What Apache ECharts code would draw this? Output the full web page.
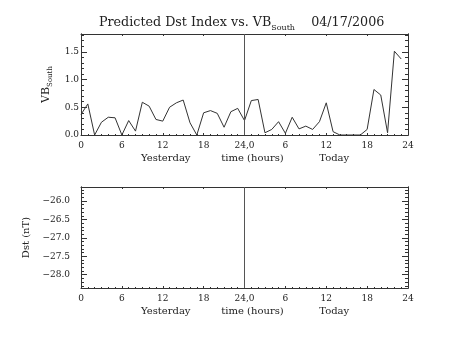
<!DOCTYPE html>
<html>
<head>
<meta charset="utf-8">
<script src="https://cdn.jsdelivr.net/npm/echarts@6/dist/echarts.min.js"></script>
<style>
html,body{margin:0;padding:0;background:#fff;}
#chart{width:453px;height:340px;}
</style>
</head>
<body>
<div id="chart"></div>
<script>
// ---- data (hours 0..47 spanning yesterday + today) ----
const hours = [0,1,2,3,4,5,6,7,8,9,10,11,12,13,14,15,16,17,18,19,20,21,22,23,
               24,25,26,27,28,29,30,31,32,33,34,35,36,37,38,39,40,41,42,43,44,45,46,47];
const vbSouth = [0.37,0.56,0.00,0.23,0.32,0.31,0.00,0.26,0.07,0.59,0.52,0.28,0.25,0.50,0.58,0.63,0.22,0.00,0.40,0.44,0.39,0.14,0.42,0.48,
                 0.26,0.62,0.64,0.04,0.10,0.24,0.03,0.32,0.11,0.16,0.10,0.24,0.58,0.06,0.00,0.00,0.00,0.00,0.10,0.82,0.72,0.04,1.51,1.37];
const dstValues = [];            // no Dst prediction plotted
const dayBoundary = [24];        // vertical separator between yesterday and today
const xTicks = [0,6,12,18,24,30,36,42,48];
const xTickLabels = ['0','6','12','18','24,0','6','12','18','24'];
const xDayLabels = {12:'Yesterday', 24:'time (hours)', 36:'Today'};
const titleMain = 'Predicted Dst Index vs. VB';
const titleSub = 'South';
const titleDate = '04/17/2006';
const yName1 = ['VB','South'];
const yName2 = 'Dst (nT)';
const vbRange = [0, 1.82];
const dstRange = [-28.36, -25.62];

const FONT = 'DejaVu Serif';
const INK = '#222';
const LINE = '#333';

const chart = echarts.init(document.getElementById('chart'), null, {renderer:'canvas'});

function xLabelFmt(v){
  const i = xTicks.indexOf(v);
  if (i < 0) return '';
  const t = '{n|' + xTickLabels[i] + '}';
  if (xDayLabels[v] !== undefined) {
    const key = v === 12 ? 'w1' : 'w2';
    return t + '\n{' + key + '|' + xDayLabels[v] + '}';
  }
  return t;
}
const xRich = {
  n:{fontFamily:FONT,fontSize:9,color:INK,lineHeight:12},
  w1:{fontFamily:FONT,fontSize:10,color:INK,lineHeight:12,padding:[0,0,0,6]},
  w2:{fontFamily:FONT,fontSize:10,color:INK,lineHeight:12,padding:[0,0,0,16]}
};

function near(v, step){ return Math.abs(v/step - Math.round(v/step)) < 1e-6; }

function makeX(grid, pos, labels){
  return {
    type:'value', gridIndex:grid, position:pos, min:0, max:48, interval:6,
    axisLine:{show:true,onZero:false,lineStyle:{color:LINE,width:1}},
    axisTick:{show:true,inside:true,length:2,lineStyle:{color:LINE}},
    minorTick:{show:true,splitNumber:6,length:1,lineStyle:{color:LINE}},
    splitLine:{show:false},
    axisLabel: labels ? {show:true,margin:5,formatter:xLabelFmt,rich:xRich,hideOverlap:false} : {show:false}
  };
}
function makeY(grid, pos, range, split, len, labelCfg, nameCfg){
  const ax = {
    type:'value', gridIndex:grid, position:pos, min:range[0], max:range[1], splitNumber:split,
    scale:true,
    axisLine:{show:true,onZero:false,lineStyle:{color:LINE,width:1}},
    axisTick:{show:true,inside:true,length:len,lineStyle:{color:LINE}},
    splitLine:{show:false},
    axisLabel: labelCfg || {show:false}
  };
  if (nameCfg) Object.assign(ax, nameCfg);
  return ax;
}

const vbLabel = {show:true,margin:2,fontFamily:FONT,fontSize:9,color:INK,
  formatter:v => near(v,0.5) ? v.toFixed(1) : ''};
const dstLabel = {show:true,margin:11,fontFamily:FONT,fontSize:9,color:INK,
  formatter:v => near(v,0.5) ? (v<0?'\u2212':'') + Math.abs(v).toFixed(1) : ''};

const option = {
  backgroundColor:'#fff',
  animation:false,
  title:{
    left:99, top:16, padding:0,
    text:'{a|' + titleMain + '}{s|' + titleSub + '}{a|    ' + titleDate + '}',
    textStyle:{
      fontWeight:'normal',
      rich:{
        a:{fontFamily:FONT,fontSize:12.7,fontWeight:'normal',color:INK,lineHeight:16,verticalAlign:'top'},
        s:{fontFamily:FONT,fontSize:8,fontWeight:'normal',color:INK,lineHeight:9,padding:[12,0,0,0],verticalAlign:'bottom'}
      }
    }
  },
  grid:[
    {left:81, top:34, width:327, height:101},
    {left:81, top:187, width:327, height:101}
  ],
  xAxis:[
    makeX(0,'bottom',true), makeX(0,'top',false),
    makeX(1,'bottom',true), makeX(1,'top',false)
  ],
  yAxis:[
    makeY(0,'left',vbRange,4,6,vbLabel,{
      name:'{a|' + yName1[0] + '}{s|' + yName1[1] + '}', nameLocation:'middle', nameRotate:90, nameGap:22,
      nameTextStyle:{fontWeight:'normal',rich:{
        a:{fontFamily:FONT,fontSize:11,fontWeight:'normal',color:INK,lineHeight:13,verticalAlign:'top'},
        s:{fontFamily:FONT,fontSize:7,fontWeight:'normal',color:INK,lineHeight:8,padding:[8,0,0,0],verticalAlign:'bottom'}
      }}
    }),
    makeY(0,'left',vbRange,18,3,null,null),
    makeY(0,'right',vbRange,4,6,null,null),
    makeY(0,'right',vbRange,18,3,null,null),
    makeY(1,'left',dstRange,5,6,dstLabel,{
      name:yName2, nameLocation:'middle', nameRotate:90, nameGap:39,
      nameTextStyle:{fontFamily:FONT,fontSize:10,fontWeight:'normal',color:INK}
    }),
    makeY(1,'left',dstRange,27,3,null,null),
    makeY(1,'right',dstRange,5,6,null,null),
    makeY(1,'right',dstRange,27,3,null,null)
  ],
  series:[
    {
      type:'line', xAxisIndex:0, yAxisIndex:0,
      data: hours.map((h,i)=>[h, vbSouth[i]]),
      showSymbol:false, symbol:'none',
      lineStyle:{color:LINE,width:1},
      markLine:{silent:true,symbol:['none','none'],label:{show:false},
        lineStyle:{color:'#555',width:1,type:'solid'},
        data: dayBoundary.map(v=>({xAxis:v}))}
    },
    {
      type:'line', xAxisIndex:2, yAxisIndex:4,
      data: dstValues,
      showSymbol:false, symbol:'none',
      lineStyle:{color:LINE,width:1},
      markLine:{silent:true,symbol:['none','none'],label:{show:false},
        lineStyle:{color:'#555',width:1,type:'solid'},
        data: dayBoundary.map(v=>({xAxis:v}))}
    }
  ]
};
chart.setOption(option);
</script>
</body>
</html>
